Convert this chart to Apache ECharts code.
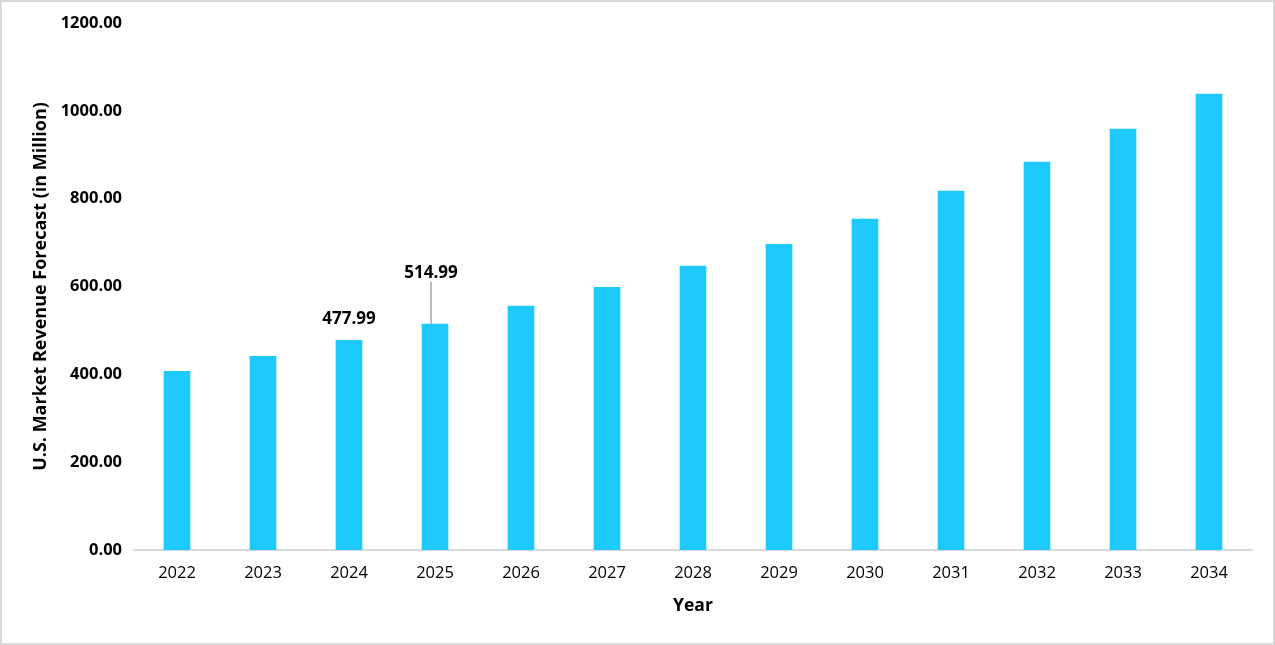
<!DOCTYPE html>
<html><head><meta charset="utf-8">
<script src="https://cdn.jsdelivr.net/npm/echarts@6/dist/echarts.min.js"></script>
<style>html,body{margin:0;padding:0;background:#fff}#c{width:1275px;height:645px;box-sizing:border-box;border:2px solid #d9d9d9}</style>
</head><body><div id="c"></div>
<script>
const years = ['2022','2023','2024','2025','2026','2027','2028','2029','2030','2031','2032','2033','2034'];
const revenue = [407.5, 441.5, 477.99, 514.99, 556, 599, 647, 697, 754, 818, 884, 959, 1039];
const labelledIdx = [2, 3];
const yTicks = {min: 0, max: 1200, interval: 200};

const chart = echarts.init(document.getElementById('c'));
const font = '"Open Sans", "Liberation Sans", sans-serif';
chart.setOption({
  animation: false,
  grid: {left: 132, right: 21, top: 21, bottom: 93},
  xAxis: {
    type: 'category', data: years,
    name: 'Year', nameLocation: 'middle', nameGap: 47,
    nameTextStyle: {fontFamily: font, fontWeight: 'bold', fontSize: 17.5, color: '#000'},
    axisLine: {lineStyle: {color: '#d9d9d9', width: 2}},
    axisTick: {show: false},
    axisLabel: {fontFamily: font, fontSize: 16.5, color: '#000', margin: 15}
  },
  yAxis: {
    type: 'value', min: yTicks.min, max: yTicks.max, interval: yTicks.interval,
    name: 'U.S. Market Revenue Forecast (in Million)', nameLocation: 'middle', nameGap: 84,
    nameTextStyle: {fontFamily: font, fontWeight: 'bold', fontSize: 18, color: '#000'},
    axisLine: {show: false}, axisTick: {show: false}, splitLine: {show: false},
    axisLabel: {fontFamily: font, fontSize: 16.5, fontWeight: 'bold', color: '#000', margin: 12,
      formatter: v => v.toFixed(2)}
  },
  series: [{
    type: 'bar', barWidth: '31%',
    itemStyle: {color: '#1ec9fc'},
    data: revenue.map((v, i) => labelledIdx.includes(i)
      ? {value: v, label: {show: true, position: 'top', distance: 12,
          fontFamily: font, fontWeight: 'bold', fontSize: 17, color: '#000',
          formatter: p => p.value.toFixed(2)},
         labelLine: {show: i === 3, lineStyle: {color: '#a6a6a6', width: 1.5}}}
      : v),
    labelLayout: p => p.dataIndex === 3 ? {dx: -4, dy: -30} : {}
  }]
});
</script></body></html>
